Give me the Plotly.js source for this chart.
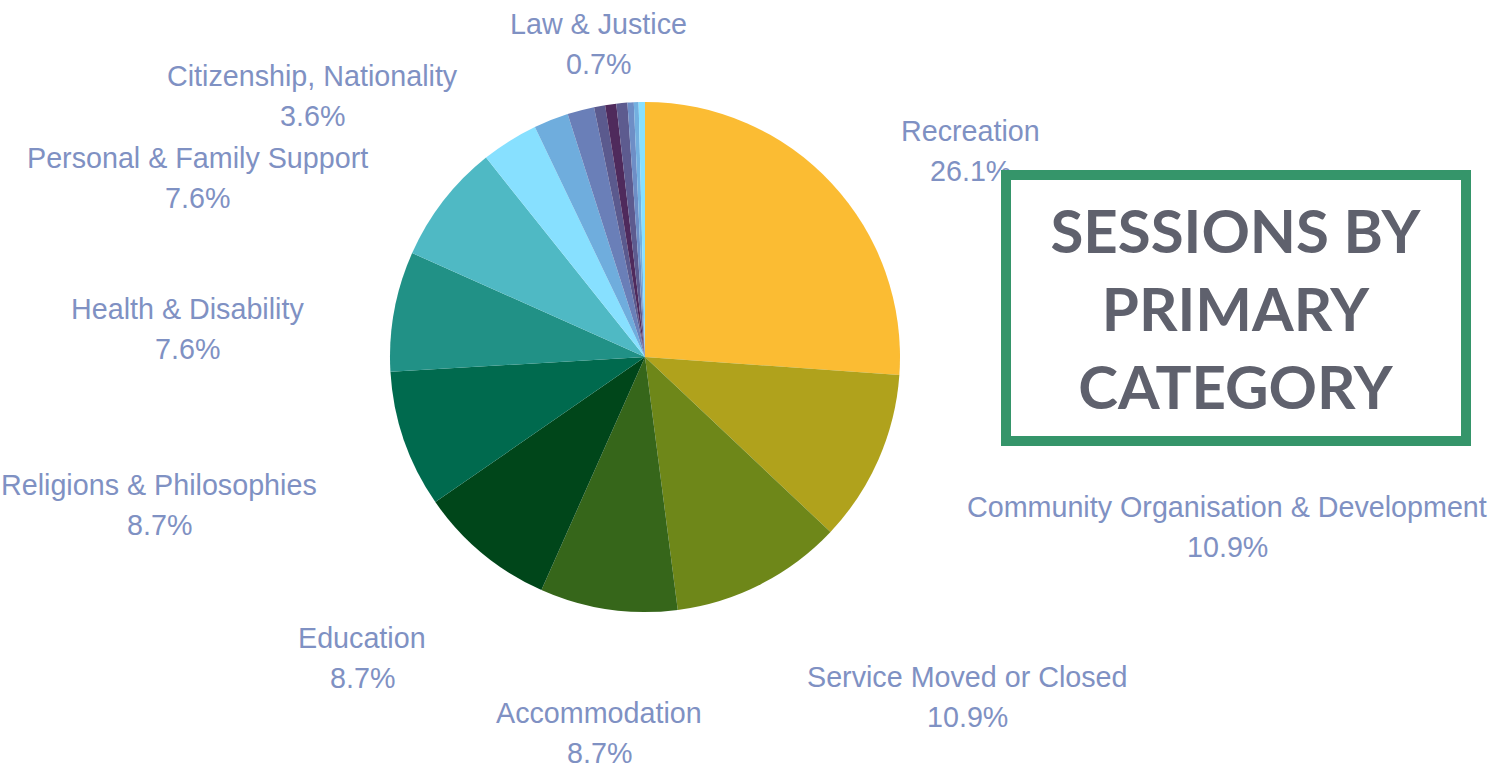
<!DOCTYPE html>
<html>
<head>
<meta charset="utf-8">
<script src="https://cdn.plot.ly/plotly-3.0.1.min.js"></script>
<style>html,body{margin:0;padding:0;background:#fff;}#chart{width:1509px;height:769px;}</style>
</head>
<body>
<div id="chart"></div>
<script>
// Data
const categories = [
  "Recreation", "Community Organisation & Development", "Service Moved or Closed",
  "Accommodation", "Education", "Religions & Philosophies", "Health & Disability",
  "Personal & Family Support", "Citizenship, Nationality",
  "Other A", "Other B", "Other C", "Law & Justice", "Other D", "Other E", "Other F", "Other G"
];
const shares = [26.1, 10.9, 10.9, 8.7, 8.7, 8.7, 7.6, 7.6, 3.6, 2.2, 1.7, 0.7, 0.7, 0.7, 0.4, 0.3, 0.4];
const colors = [
  "#FBBC33", "#B0A21C", "#6E8719", "#36661A", "#00461A", "#006A4E", "#219186",
  "#4FB9C4", "#87E0FF", "#6FADDD", "#6A7FB8", "#5B5A8E", "#4F2A5C", "#5D5B8F",
  "#6E8EC6", "#73B0E0", "#87E0FF"
];
const labelled = ["Recreation", "Community Organisation & Development", "Service Moved or Closed",
  "Accommodation", "Education", "Religions & Philosophies", "Health & Disability",
  "Personal & Family Support", "Citizenship, Nationality", "Law & Justice"];
const titleLines = ["SESSIONS BY", "PRIMARY", "CATEGORY"];

// Label placement (pixels)
const labelPos = {
  "Recreation": [970, 131],
  "Community Organisation & Development": [1227, 507],
  "Service Moved or Closed": [967, 677],
  "Accommodation": [599, 713],
  "Education": [362, 638],
  "Religions & Philosophies": [159, 485],
  "Health & Disability": [187, 309],
  "Personal & Family Support": [197, 158],
  "Citizenship, Nationality": [312, 76],
  "Law & Justice": [598, 24]
};

const W = 1509, H = 769;
const cx = 645, cy = 357, r = 255;
const px = x => x / W, py = y => 1 - y / H;

const annotations = [];
const labelColor = "#7F91C3";
const labelFont = {family: "Liberation Sans, Arial, sans-serif", size: 28.7, color: labelColor};
labelled.forEach(name => {
  const i = categories.indexOf(name);
  const p = labelPos[name];
  annotations.push({xref: "paper", yref: "paper", x: px(p[0]), y: py(p[1]), xanchor: "center", yanchor: "middle",
    showarrow: false, text: name, font: labelFont});
  annotations.push({xref: "paper", yref: "paper", x: px(p[0]), y: py(p[1] + 40), xanchor: "center", yanchor: "middle",
    showarrow: false, text: shares[i].toFixed(1) + "%", font: labelFont});
});
annotations.push({
  xref: "paper", yref: "paper", x: px(1236), y: py(308), xanchor: "center", yanchor: "middle",
  showarrow: false, text: titleLines.join("<br>"),
  font: {family: "Lato, sans-serif", size: 60, color: "#5F616D", weight: 700},
  width: 450, height: 256, bgcolor: "#ffffff", bordercolor: "#35956A", borderwidth: 10, borderpad: 0
});

const trace = {
  type: "pie", labels: categories, values: shares, sort: false, direction: "clockwise", rotation: 0,
  marker: {colors: colors, line: {width: 0}}, textinfo: "none", hoverinfo: "label+percent",
  domain: {x: [px(cx - r), px(cx + r)], y: [py(cy + r), py(cy - r)]}
};

Plotly.newPlot("chart", [trace], {
  width: W, height: H, margin: {l: 0, r: 0, t: 0, b: 0}, showlegend: false,
  paper_bgcolor: "#ffffff", annotations: annotations
}, {displayModeBar: false});
</script>
</body>
</html>
